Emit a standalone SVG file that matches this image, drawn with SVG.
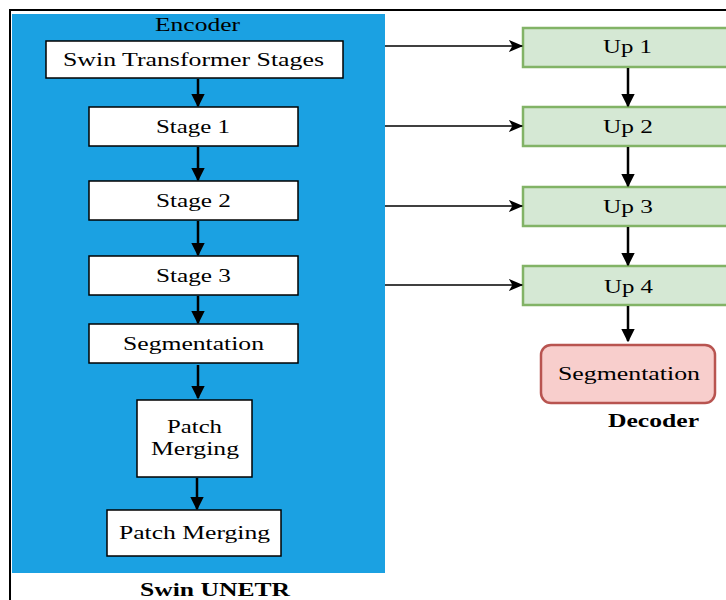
<svg xmlns="http://www.w3.org/2000/svg" width="726" height="600" viewBox="0 0 726 600">
<defs>
<style>
.t{font-family:"Liberation Serif","Times New Roman",serif;font-size:18px;fill:#000;text-anchor:start}
.b{font-weight:bold}
.wb{fill:#fff;stroke:#000;stroke-width:1.5}
.gb{fill:#d5e8d4;stroke:#82b366;stroke-width:2.5}
.rb{fill:#f8cecc;stroke:#b85450;stroke-width:2.5}
.thick{stroke:#000;stroke-width:2.5;fill:none}
.thin{stroke:#000;stroke-width:1.5;fill:none}
</style>
<marker id="ah" viewBox="0 0 10 10" refX="9" refY="5" markerWidth="5.5" markerHeight="5.5" markerUnits="strokeWidth" orient="auto">
<path d="M0,0 L10,5 L0,10 Z" fill="#000"/>
</marker>
<marker id="ah2" viewBox="0 0 12 10" refX="11" refY="5" markerWidth="10" markerHeight="8" markerUnits="strokeWidth" orient="auto">
<path d="M0,0 L12,5 L0,10 L3,5 Z" fill="#000"/>
</marker>
</defs>
<rect width="726" height="600" fill="#fff"/>
<path d="M10,600 V10 H726" fill="none" stroke="#000" stroke-width="2"/>
<g id="encoder">
<rect x="12" y="14" width="373" height="559" fill="#1ba1e2"/>
<text class="t" x="155" y="31" textLength="85" lengthAdjust="spacingAndGlyphs">Encoder</text>
</g>
<g id="swin-stages"><rect class="wb" x="46" y="41" width="297" height="37"/><text class="t" x="63" y="66" textLength="261" lengthAdjust="spacingAndGlyphs">Swin Transformer Stages</text></g>
<g id="stage1"><rect class="wb" x="89" y="107" width="209" height="39"/><text class="t" x="156" y="133" textLength="74" lengthAdjust="spacingAndGlyphs">Stage 1</text></g>
<g id="stage2"><rect class="wb" x="89" y="181" width="209" height="39"/><text class="t" x="156" y="207" textLength="75" lengthAdjust="spacingAndGlyphs">Stage 2</text></g>
<g id="stage3"><rect class="wb" x="89" y="256" width="209" height="39"/><text class="t" x="156" y="282" textLength="75" lengthAdjust="spacingAndGlyphs">Stage 3</text></g>
<g id="segmentation-enc"><rect class="wb" x="89" y="324" width="209" height="39"/><text class="t" x="123" y="350" textLength="141" lengthAdjust="spacingAndGlyphs">Segmentation</text></g>
<g id="patch-merging-1"><rect class="wb" x="137" y="400" width="115" height="77"/><text class="t" x="167" y="433" textLength="55" lengthAdjust="spacingAndGlyphs">Patch</text><text class="t" x="151" y="455" textLength="88" lengthAdjust="spacingAndGlyphs">Merging</text></g>
<g id="patch-merging-2"><rect class="wb" x="107" y="510" width="174" height="46"/><text class="t" x="119" y="539" textLength="151" lengthAdjust="spacingAndGlyphs">Patch Merging</text></g>
<g id="label-swin-unetr"><text class="t b" x="140" y="596" textLength="150" lengthAdjust="spacingAndGlyphs">Swin UNETR</text></g>
<g id="up1"><rect class="gb" x="523" y="28" width="210" height="39"/><text class="t" x="603" y="53" textLength="49" lengthAdjust="spacingAndGlyphs">Up 1</text></g>
<g id="up2"><rect class="gb" x="523" y="107" width="210" height="39"/><text class="t" x="603" y="133" textLength="50" lengthAdjust="spacingAndGlyphs">Up 2</text></g>
<g id="up3"><rect class="gb" x="523" y="187" width="210" height="39"/><text class="t" x="603" y="213" textLength="50" lengthAdjust="spacingAndGlyphs">Up 3</text></g>
<g id="up4"><rect class="gb" x="523" y="266" width="210" height="39"/><text class="t" x="604" y="293" textLength="49" lengthAdjust="spacingAndGlyphs">Up 4</text></g>
<g id="segmentation-dec"><rect class="rb" x="541" y="345" width="174" height="58" rx="10"/><text class="t" x="558" y="380" textLength="142" lengthAdjust="spacingAndGlyphs">Segmentation</text></g>
<g id="label-decoder"><text class="t b" x="608" y="427" textLength="91" lengthAdjust="spacingAndGlyphs">Decoder</text></g>
<g id="connectors">
<line class="thick" x1="198" y1="79" x2="198" y2="106" marker-end="url(#ah)"/>
<line class="thick" x1="198" y1="147" x2="198" y2="180" marker-end="url(#ah)"/>
<line class="thick" x1="198" y1="221" x2="198" y2="255" marker-end="url(#ah)"/>
<line class="thick" x1="198" y1="296" x2="198" y2="323" marker-end="url(#ah)"/>
<line class="thick" x1="198" y1="365" x2="198" y2="398" marker-end="url(#ah)"/>
<line class="thick" x1="197" y1="478" x2="197" y2="509" marker-end="url(#ah)"/>
<line class="thin" x1="385" y1="46" x2="522" y2="46" marker-end="url(#ah2)"/>
<line class="thin" x1="385" y1="126" x2="522" y2="126" marker-end="url(#ah2)"/>
<line class="thin" x1="385" y1="206" x2="522" y2="206" marker-end="url(#ah2)"/>
<line class="thin" x1="385" y1="285" x2="522" y2="285" marker-end="url(#ah2)"/>
<line class="thick" x1="628" y1="68" x2="628" y2="106" marker-end="url(#ah)"/>
<line class="thick" x1="628" y1="147" x2="628" y2="186" marker-end="url(#ah)"/>
<line class="thick" x1="628" y1="227" x2="628" y2="265" marker-end="url(#ah)"/>
<line class="thick" x1="628" y1="306" x2="628" y2="341" marker-end="url(#ah)"/>
</g>
</svg>
